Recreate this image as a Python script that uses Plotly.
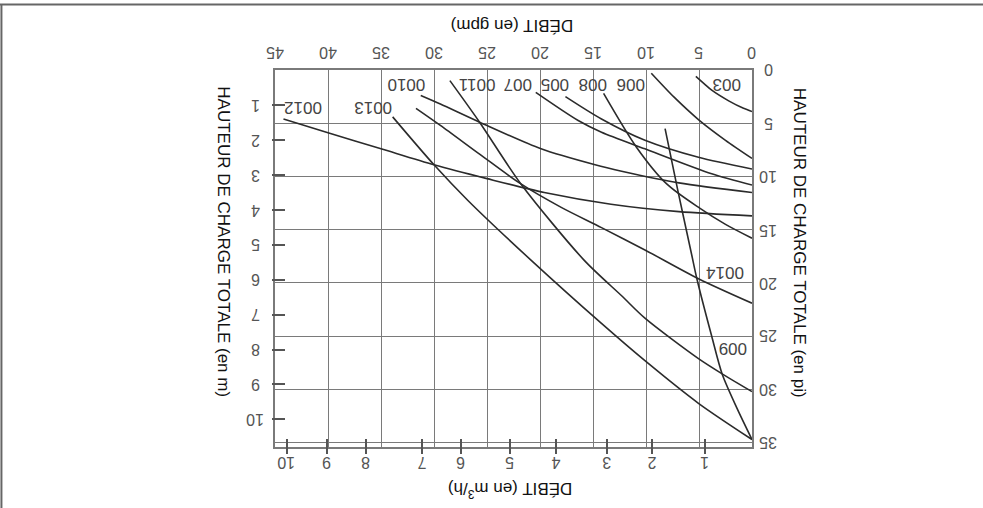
import plotly.graph_objects as go

# ---------------- data ----------------
gpm_ticks = [0, 5, 10, 15, 20, 25, 30, 35, 40, 45]
ft_ticks = [0, 5, 10, 15, 20, 25, 30, 35]
m_ticks = [1, 2, 3, 4, 5, 6, 7, 8, 9, 10]
mh_ticks = [1, 2, 3, 4, 5, 6, 7, 8, 9, 10]
# positions (in gpm) at which the m3/h ticks are drawn on the original
mh_tick_gpm = [4.43, 9.46, 13.71, 18.51, 22.83, 27.5, 31.16, 36.46, 40.14, 43.91]
FT_PER_M = 3.2808

c003_gpm = [5.3, 4.5, 3.8, 2.2, 0.8, 0]
c003_ft = [0.6, 1.3, 1.9, 2.9, 3.6, 3.9]

c005_gpm = [17.6, 14.2, 10.1, 5.05, 0]
c005_ft = [2.5, 4.6, 6.6, 8.2, 9.3]

c006_gpm = [9.5, 7.3, 5.0, 2.5, 0]
c006_ft = [0.3, 2.6, 4.7, 6.6, 8.3]

c007_gpm = [20.4, 16.4, 14.2, 10.1, 3.8, 0]
c007_ft = [2.1, 4.74, 5.84, 7.4, 9.74, 10.8]

c008_gpm = [14.0, 10.9, 8.05, 4.9, 2.5, 0]
c008_ft = [2.2, 7.25, 10.7, 13.0, 14.5, 15.8]

c009_gpm = [8.2, 7.0, 5.7, 5.2, 3.8, 2.8, 1.4, 0]
c009_ft = [5.5, 11.3, 17.3, 19.6, 25.0, 28.6, 31.8, 34.7]

c0010_gpm = [31.25, 29.4, 25.7, 19.9, 14.8, 12.3, 6.9, 0]
c0010_ft = [2.4, 3.2, 4.9, 7.4, 8.9, 9.5, 10.6, 11.5]

c0011_gpm = [28.5, 25.7, 21.8, 15.8, 12.3, 10.1, 5.05, 2.7, 0]
c0011_ft = [1.0, 4.9, 10.7, 17.9, 21.2, 23.3, 27.1, 28.6, 30.2]

c0012_gpm = [44.2, 40, 35, 30, 25, 19.6, 13.3, 6.9, 0]
c0012_ft = [4.6, 5.9, 7.4, 8.9, 10.2, 11.5, 12.6, 13.3, 13.7]

c0013_gpm = [33.9, 30, 26.8, 20.8, 14.2, 10.1, 5.05, 0]
c0013_ft = [4.4, 8.9, 12.25, 17.9, 23.8, 27.3, 31.3, 34.7]

c0014_gpm = [31.7, 29.4, 25.7, 21.8, 18.0, 14.2, 10.1, 5.05, 0]
c0014_ft = [3.6, 5.2, 7.9, 10.7, 12.9, 14.8, 16.9, 19.6, 21.9]

curve_names = ["003", "005", "006", "007", "008", "009", "0010", "0011", "0012", "0013", "0014"]
curve_gpm = [c003_gpm, c005_gpm, c006_gpm, c007_gpm, c008_gpm, c009_gpm,
             c0010_gpm, c0011_gpm, c0012_gpm, c0013_gpm, c0014_gpm]
curve_ft = [c003_ft, c005_ft, c006_ft, c007_ft, c008_ft, c009_ft,
            c0010_ft, c0011_ft, c0012_ft, c0013_ft, c0014_ft]

# curve label placement (gpm, ft)
label_text = ["0012", "0013", "0010", "0011", "007", "005", "008", "006", "003", "0014", "009"]
label_gpm = [42.36, 35.75, 32.58, 25.97, 22.08, 18.58, 15.0, 11.42, 2.36, 2.55, 1.79]
label_ft = [3.52, 3.52, 1.41, 1.41, 1.41, 1.41, 1.41, 1.41, 1.41, 19.0, 26.2]

# ---------------- figure ----------------
GRID = "#7a7a7a"
TXT = "#555555"
FONT = "Liberation Sans, Arial, sans-serif"
FT_MAX = 35.4

fig = go.Figure()
for name, xs, ys in zip(curve_names, curve_gpm, curve_ft):
    fig.add_trace(go.Scatter(x=xs, y=ys, mode="lines", name=name, showlegend=False,
                             line=dict(color="#2b2b2b", width=1.6, shape="spline", smoothing=0.8),
                             hoverinfo="skip"))

# invisible traces to activate overlay axes
fig.add_trace(go.Scatter(x=[45], y=[0], xaxis="x2", yaxis="y", mode="markers",
                         marker=dict(opacity=0), showlegend=False, hoverinfo="skip"))
fig.add_trace(go.Scatter(x=[45], y=[0], xaxis="x", yaxis="y2", mode="markers",
                         marker=dict(opacity=0), showlegend=False, hoverinfo="skip"))

ann = dict(showarrow=False, xanchor="center", yanchor="middle")

# curve labels
for t, gx, fy in zip(label_text, label_gpm, label_ft):
    fig.add_annotation(x=gx, y=fy, xref="x", yref="y", text=t, textangle=180,
                       font=dict(family=FONT, size=17, color="#444444"), **ann)

tick_font = dict(family=FONT, size=16, color=TXT)
# top gpm tick labels
for v in gpm_ticks:
    fig.add_annotation(x=v, y=1.045, xref="x", yref="paper", text=str(v), textangle=180,
                       font=tick_font, **ann)
# right ft tick labels
for v in ft_ticks:
    fig.add_annotation(x=1.0335, y=v, xref="paper", yref="y", text=str(v), textangle=180,
                       font=tick_font, **ann)
# left m tick labels
for v in m_ticks:
    fig.add_annotation(x=-0.042, y=v, xref="paper", yref="y2", text=str(v), textangle=180,
                       font=tick_font, **ann)
# bottom m3/h tick labels
for v, gx in zip(mh_ticks, mh_tick_gpm):
    fig.add_annotation(x=gx, y=-0.043, xref="x", yref="paper", text=str(v), textangle=180,
                       font=tick_font, **ann)

fig.update_layout(
    width=983, height=508,
    margin=dict(l=275, r=231, t=70, b=61),
    paper_bgcolor="white", plot_bgcolor="white",
    xaxis=dict(range=[45, 0], side="top", tickmode="array", tickvals=gpm_ticks,
               showticklabels=False, automargin=False,
               showgrid=True, gridcolor=GRID, gridwidth=1.4,
               showline=True, linecolor=GRID, linewidth=1.6, mirror=True,
               zeroline=False, ticks=""),
    yaxis=dict(range=[FT_MAX, 0], side="right", tickmode="array", tickvals=ft_ticks,
               showticklabels=False, automargin=False,
               showgrid=True, gridcolor=GRID, gridwidth=1.4,
               showline=True, linecolor=GRID, linewidth=1.6, mirror=True,
               zeroline=False, ticks=""),
    xaxis2=dict(range=[45, 0], overlaying="x", anchor="free", position=0.023, side="bottom",
                tickmode="array", tickvals=mh_tick_gpm, showticklabels=False, automargin=False,
                ticks="outside", ticklen=15, tickwidth=1.6, tickcolor="#555",
                showgrid=False, showline=False, zeroline=False),
    yaxis2=dict(range=[FT_MAX / FT_PER_M, 0], overlaying="y", anchor="free", position=0.021,
                side="left", tickmode="array", tickvals=m_ticks, showticklabels=False,
                automargin=False, ticks="outside", ticklen=13, tickwidth=1.6, tickcolor="#555",
                showgrid=False, showline=False, zeroline=False),
)

title_font = dict(family=FONT, size=17, color="#111111")
fig.add_annotation(x=0.497, y=1.12, xref="paper", yref="paper", text="DÉBIT (en gpm)",
                   textangle=180, font=title_font, **ann)
fig.add_annotation(x=0.493, y=-0.114, xref="paper", yref="paper", text="DÉBIT (en m<sup>3</sup>/h)",
                   textangle=180, font=title_font, **ann)
fig.add_annotation(x=-0.107, y=0.543, xref="paper", yref="paper",
                   text="HAUTEUR DE CHARGE TOTALE (en m)", textangle=90, font=title_font, **ann)
fig.add_annotation(x=1.0996, y=0.543, xref="paper", yref="paper",
                   text="HAUTEUR DE CHARGE TOTALE (en pi)", textangle=90, font=title_font, **ann)

# frame lines of the scanned page (top edge and left edge)
fig.add_shape(type="line", xref="paper", yref="paper", x0=-0.58, x1=1.49, y0=1.174, y1=1.174,
              line=dict(color="#666666", width=2))
fig.add_shape(type="line", xref="paper", yref="paper", x0=-0.5735, x1=-0.5735, y0=1.174, y1=-0.17,
              line=dict(color="#666666", width=2))

fig.write_html("out.html", config={"displayModeBar": False})

# remove the browser's default page margin so the figure sits at (0, 0)
with open("out.html", "r", encoding="utf-8") as f:
    html = f.read()
html = html.replace("<head>", "<head><style>html,body{margin:0;padding:0;overflow:hidden;}</style>", 1)
with open("out.html", "w", encoding="utf-8") as f:
    f.write(html)
